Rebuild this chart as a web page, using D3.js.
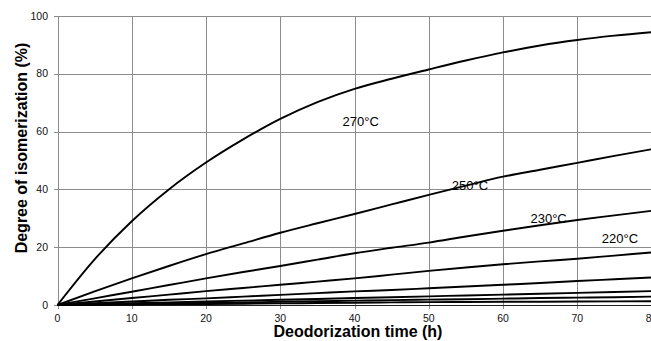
<!DOCTYPE html>
<html>
<head>
<meta charset="utf-8">
<script src="https://cdn.jsdelivr.net/npm/d3@7"></script>
<style>
  html, body { margin: 0; padding: 0; background: #fff; }
  svg { display: block; font-family: "Liberation Sans", Arial, sans-serif; }
</style>
</head>
<body>
<svg id="chart" width="651" height="341"></svg>
<script>
// Deodorization time (h), sampled every 5 h
const hours = [0, 5, 10, 15, 20, 25, 30, 35, 40, 45, 50, 55, 60, 65, 70, 75, 80];

// Degree of isomerization (%) per deodorization temperature
const iso270 = [0, 15.8, 29.0, 40.0, 49.3, 57.3, 64.4, 70.2, 74.8, 78.3, 81.5, 84.6, 87.4, 89.8, 91.7, 93.2, 94.4];
const iso250 = [0, 4.7, 9.2, 13.5, 17.6, 21.3, 25.0, 28.3, 31.5, 34.8, 38.1, 41.3, 44.4, 46.8, 49.2, 51.6, 53.9];
const iso230 = [0, 2.3, 4.6, 6.9, 9.2, 11.4, 13.5, 15.7, 17.9, 19.8, 21.6, 23.7, 25.7, 27.6, 29.4, 31.0, 32.6];
const iso220 = [0, 1.2, 2.4, 3.6, 4.8, 5.9, 7.0, 8.1, 9.2, 10.5, 11.8, 13.0, 14.1, 15.1, 16.0, 17.1, 18.2];
const iso210 = [0, 0.6, 1.2, 1.8, 2.3, 2.9, 3.5, 4.1, 4.7, 5.2, 5.8, 6.4, 7.0, 7.6, 8.3, 8.9, 9.5];
const iso200 = [0, 0.3, 0.6, 0.9, 1.2, 1.5, 1.8, 2.1, 2.4, 2.7, 3.0, 3.3, 3.6, 3.9, 4.2, 4.5, 4.8];
const iso190 = [0, 0.18, 0.35, 0.52, 0.7, 0.9, 1.1, 1.3, 1.5, 1.7, 1.85, 2.0, 2.2, 2.4, 2.55, 2.7, 2.9];
const iso180 = [0, 0.08, 0.15, 0.25, 0.35, 0.45, 0.55, 0.68, 0.8, 0.9, 1.0, 1.05, 1.1, 1.15, 1.2, 1.25, 1.3];

const seriesNames = ["270°C", "250°C", "230°C", "220°C", "210°C", "200°C", "190°C", "180°C"];
const seriesValues = [iso270, iso250, iso230, iso220, iso210, iso200, iso190, iso180];

// Curve labels, anchored in data units (h, %)
const labelNames = ["270°C", "250°C", "230°C", "220°C"];
const labelHours = [38.4, 53.1, 63.7, 73.3];
const labelPct = [61.9, 39.8, 28.4, 21.5];

const xTicks = [0, 10, 20, 30, 40, 50, 60, 70, 80];
const yTicks = [0, 20, 40, 60, 80, 100];

const svg = d3.select("#chart");
const x = d3.scaleLinear().domain([0, 80]).range([57.5, 651.5]);
const y = d3.scaleLinear().domain([0, 100]).range([305, 16]);

// grid
const grid = svg.append("g").attr("stroke", "#8c8c8c").attr("stroke-width", 1).attr("shape-rendering", "crispEdges");
grid.selectAll("line.v").data(xTicks).join("line")
  .attr("class", "v")
  .attr("x1", d => Math.round(x(d)) + 0.5).attr("x2", d => Math.round(x(d)) + 0.5)
  .attr("y1", y(100)).attr("y2", y(0) + 4);
grid.selectAll("line.h").data(yTicks).join("line")
  .attr("class", "h")
  .attr("x1", x(0) - 4).attr("x2", x(80))
  .attr("y1", d => Math.round(y(d)) + 0.5).attr("y2", d => Math.round(y(d)) + 0.5);

// x axis baseline
svg.append("line")
  .attr("x1", x(0)).attr("x2", x(80))
  .attr("y1", y(0) + 0.5).attr("y2", y(0) + 0.5)
  .attr("stroke", "#222").attr("stroke-width", 1);

// tick labels
svg.append("g").selectAll("text").data(yTicks).join("text")
  .attr("x", 48).attr("y", d => y(d) + 3.5)
  .attr("text-anchor", "end")
  .attr("font-size", 10.5).attr("fill", "#111")
  .text(d => d);
svg.append("g").selectAll("text").data(xTicks).join("text")
  .attr("x", d => x(d)).attr("y", 322)
  .attr("text-anchor", "middle")
  .attr("font-size", 10.5).attr("fill", "#111")
  .text(d => d);

// curves
const line = d3.line()
  .x((d, i) => x(hours[i]))
  .y(d => y(d))
  .curve(d3.curveMonotoneX);
svg.append("g").selectAll("path").data(seriesValues).join("path")
  .attr("d", d => line(d))
  .attr("fill", "none")
  .attr("stroke", "#000")
  .attr("stroke-width", 1.9)
  .attr("stroke-linejoin", "round");

// curve labels
svg.append("g").selectAll("text").data(labelNames).join("text")
  .attr("x", (d, i) => x(labelHours[i]))
  .attr("y", (d, i) => y(labelPct[i]))
  .attr("font-size", 13).attr("fill", "#000")
  .text(d => d);

// axis titles
svg.append("text")
  .attr("x", 358).attr("y", 337)
  .attr("text-anchor", "middle")
  .attr("font-size", 16).attr("font-weight", "bold").attr("fill", "#000")
  .text("Deodorization time (h)");
svg.append("text")
  .attr("transform", "translate(27,148) rotate(-90)")
  .attr("text-anchor", "middle")
  .attr("font-size", 16).attr("font-weight", "bold").attr("fill", "#000")
  .text("Degree of isomerization (%)");
</script>
</body>
</html>
